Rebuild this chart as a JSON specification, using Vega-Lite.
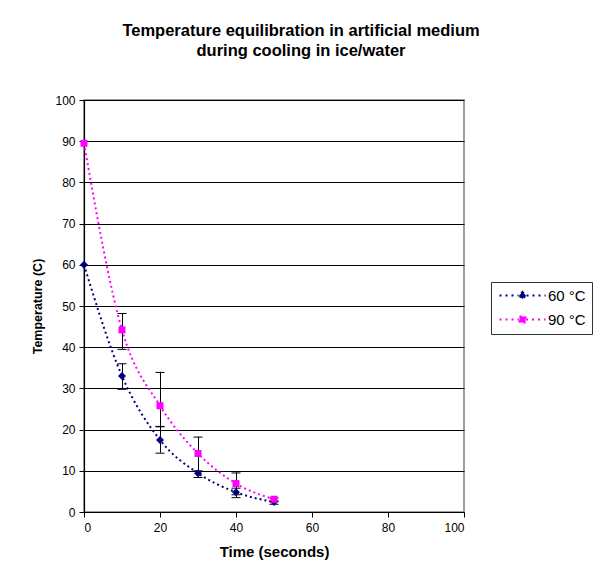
{
  "$schema": "https://vega.github.io/schema/vega-lite/v6.json",
  "autosize": {"type": "none"},
  "width": 380,
  "height": 412,
  "padding": {"left": 84, "top": 100, "right": 136, "bottom": 71},
  "background": "white",
  "title": {
    "text": ["Temperature equilibration in artificial medium", "during cooling in ice/water"],
    "font": "Liberation Sans",
    "fontSize": 16.5,
    "fontWeight": "bold",
    "lineHeight": 20,
    "offset": 35,
    "dx": 27,
    "color": "black"
  },
  "data": {
    "values": [
      {"series": "60 °C", "t": 0, "temp": 60.0, "lo": null, "hi": null},
      {"series": "60 °C", "t": 10, "temp": 33.0, "lo": 29.9, "hi": 36.1},
      {"series": "60 °C", "t": 20, "temp": 17.5, "lo": 14.4, "hi": 20.8},
      {"series": "60 °C", "t": 30, "temp": 9.4, "lo": 8.5, "hi": 10.1},
      {"series": "60 °C", "t": 40, "temp": 4.8, "lo": 3.6, "hi": 5.9},
      {"series": "60 °C", "t": 50, "temp": 2.4, "lo": 2.0, "hi": 2.8},
      {"series": "90 °C", "t": 0, "temp": 89.5, "lo": null, "hi": null},
      {"series": "90 °C", "t": 10, "temp": 44.2, "lo": 39.6, "hi": 48.3},
      {"series": "90 °C", "t": 20, "temp": 25.8, "lo": 20.9, "hi": 34.0},
      {"series": "90 °C", "t": 30, "temp": 14.2, "lo": 10.0, "hi": 18.3},
      {"series": "90 °C", "t": 40, "temp": 6.9, "lo": 4.3, "hi": 9.6},
      {"series": "90 °C", "t": 50, "temp": 3.1, "lo": 2.7, "hi": 3.5}
    ]
  },
  "encoding": {
    "x": {
      "field": "t", "type": "quantitative",
      "scale": {"domain": [0, 100], "nice": false},
      "axis": {"values": [0, 20, 40, 60, 80, 100], "title": "Time (seconds)", "grid": false, "labelPadding": 5, "titlePadding": 11, "titleFontSize": 15}
    },
    "y": {
      "field": "temp", "type": "quantitative",
      "scale": {"domain": [0, 100], "nice": false},
      "axis": {"values": [0, 10, 20, 30, 40, 50, 60, 70, 80, 90, 100], "title": "Temperature (C)", "grid": true, "labelPadding": 4, "titlePadding": 10, "titleFontSize": 12.5}
    }
  },
  "layer": [
    {
      "mark": {"type": "line", "interpolate": "monotone", "strokeDash": [2, 3], "strokeWidth": 2},
      "encoding": {
        "color": {"field": "series", "type": "nominal", "scale": {"domain": ["60 °C", "90 °C"], "range": ["#000080", "#FF00FF"]}}
      }
    },
    {
      "mark": {"type": "errorbar", "ticks": {"size": 9, "color": "black", "thickness": 1, "opacity": 1, "yOffset": 0.5}, "rule": {"color": "black", "strokeWidth": 1, "opacity": 1, "xOffset": 0.5}},
      "encoding": {
        "y": {"field": "lo", "type": "quantitative"},
        "y2": {"field": "hi"}
      }
    },
    {
      "transform": [{"filter": "datum.series == '60 °C'"}],
      "mark": {"type": "point", "filled": true, "opacity": 1, "shape": "diamond", "size": 64},
      "encoding": {
        "color": {"field": "series", "type": "nominal"}
      }
    },
    {
      "transform": [{"filter": "datum.series == '90 °C'"}],
      "mark": {"type": "point", "filled": true, "opacity": 1, "shape": "square", "size": 49},
      "encoding": {
        "color": {"field": "series", "type": "nominal"}
      }
    },
    {
      "mark": {"type": "point", "filled": true, "opacity": 0},
      "encoding": {
        "color": {"field": "series", "type": "nominal", "legend": {
          "title": null, "orient": "none", "legendX": 407, "legendY": 182,
          "strokeColor": "#333", "padding": 6, "symbolSize": 100, "symbolOpacity": 1, "symbolOffset": 18,
          "symbolStrokeWidth": 2, "symbolDash": [2, 4], "labelFontSize": 15, "labelFont": "Liberation Sans",
          "labelColor": "black", "rowPadding": 8, "labelOffset": 18,
          "encode": {"symbols": {"update": {"stroke": {"field": "value", "scale": "color"}, "fill": {"field": "value", "scale": "color"}}}}
        }},
        "shape": {"field": "series", "type": "nominal", "scale": {"domain": ["60 °C", "90 °C"], "range": [
          "M-4.6,0L-0.8,0M0.8,0L4.6,0M0,-0.7L0.7,0L0,0.7L-0.7,0Z",
          "M-4.6,0L-0.7,0M0.7,0L4.6,0M-0.6,-0.6L0.6,-0.6L0.6,0.6L-0.6,0.6Z"
        ]}, "legend": {
          "title": null, "orient": "none", "legendX": 407, "legendY": 182,
          "strokeColor": "#333", "padding": 6, "symbolSize": 100, "symbolOpacity": 1, "symbolOffset": 18,
          "symbolStrokeWidth": 2, "symbolDash": [2, 4], "labelFontSize": 15, "labelFont": "Liberation Sans",
          "labelColor": "black", "rowPadding": 8, "labelOffset": 18,
          "encode": {"symbols": {"update": {"stroke": {"field": "value", "scale": "color"}, "fill": {"field": "value", "scale": "color"}}}}
        }}
      }
    }
  ],
  "config": {
    "font": "Liberation Sans",
    "view": {"stroke": "#808080", "strokeWidth": 1.5},
    "axis": {
      "domainColor": "black", "domainWidth": 1.2, "tickColor": "black", "tickSize": 5,
      "gridColor": "black", "gridWidth": 1, "gridOpacity": 1,
      "labelFont": "Liberation Sans", "labelFontSize": 12, "labelColor": "black",
      "titleFont": "Liberation Sans", "titleFontWeight": "bold", "titleColor": "black"
    }
  }
}
